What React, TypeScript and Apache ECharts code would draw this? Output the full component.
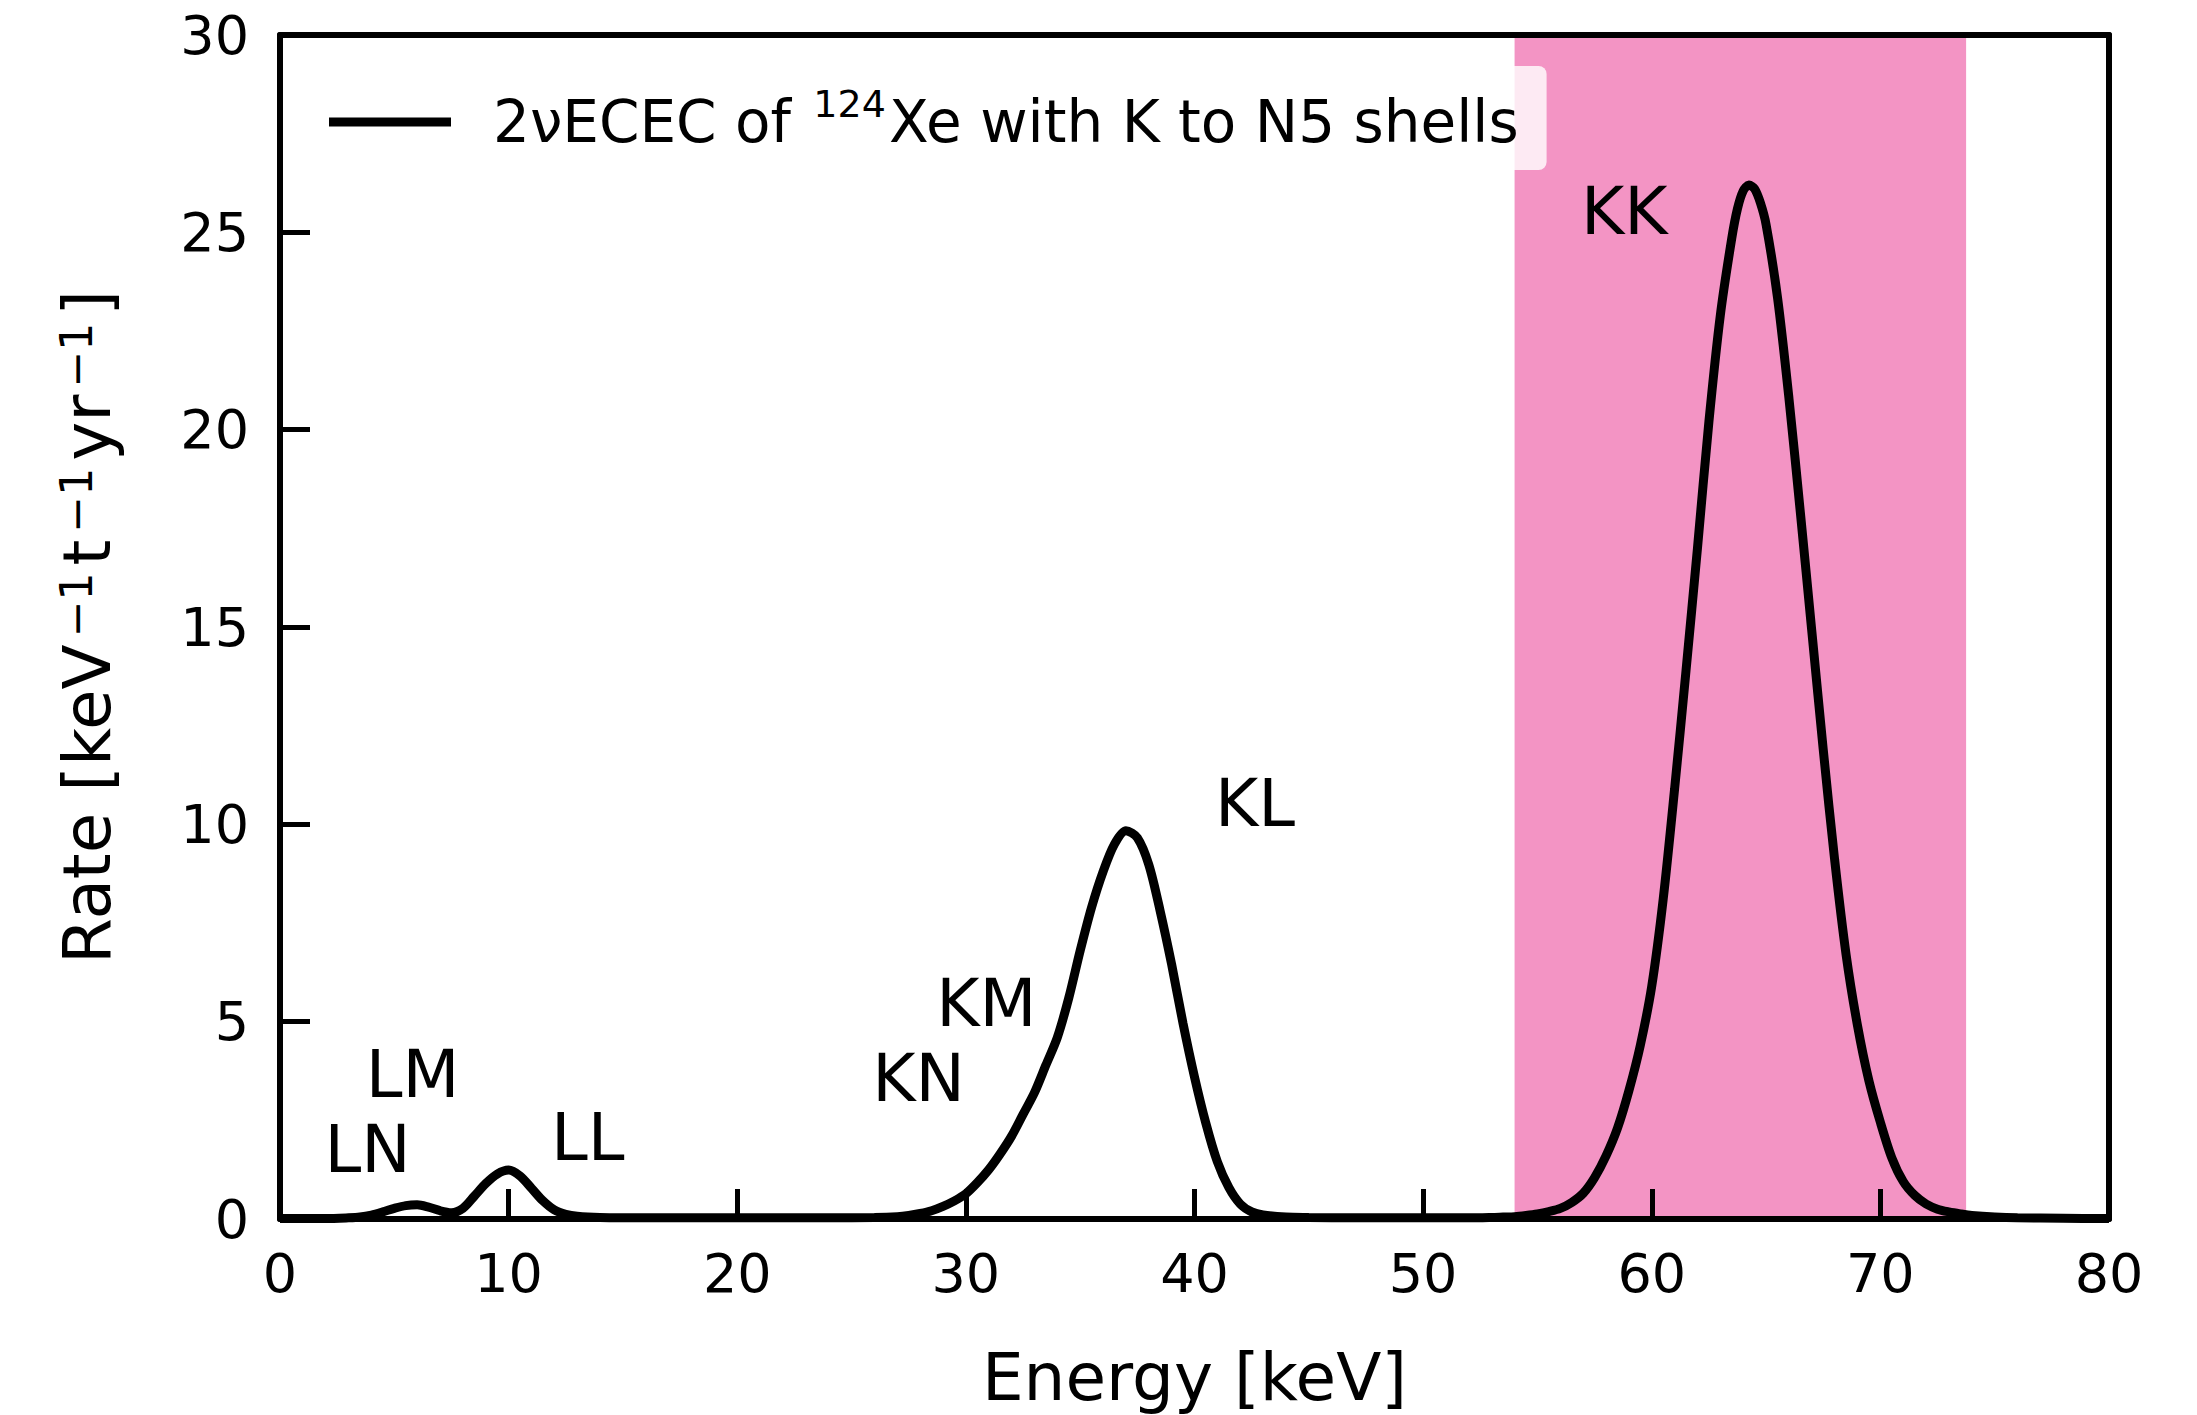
import React, { useEffect, useRef } from 'react';
import * as echarts from 'echarts';

const energy = [
  0, 1, 2, 3, 3.5, 4, 4.5, 5, 5.5, 6, 6.5, 7, 7.5, 8, 8.5, 9, 9.5, 10, 10.5, 11, 11.5, 12, 12.5, 13, 14,
  16, 18, 20, 22, 24, 26, 27, 27.5, 28, 28.5, 29, 29.5, 30, 30.5, 31, 31.5, 32, 32.5, 33, 33.5, 34, 34.5,
  35, 35.5, 36, 36.5, 37, 37.5, 38, 38.5, 39, 39.5, 40, 40.5, 41, 41.5, 42, 42.5, 43, 44, 45, 47,
  50, 52, 53, 53.5, 54, 54.5, 55, 55.5, 56, 56.5, 57, 57.5, 58, 58.5, 59, 59.5, 60, 60.5, 61, 61.5, 62,
  62.5, 63, 63.5, 63.75, 64, 64.25, 64.5, 64.75, 65, 65.5, 66, 66.5, 67, 67.5, 68, 68.5, 69, 69.5, 70, 70.5, 71, 71.5,
  72, 72.5, 73, 73.5, 74, 75, 76, 78, 80,
];
const rate = [
  0.01, 0.01, 0.01, 0.03, 0.05, 0.1, 0.18, 0.27, 0.34, 0.36, 0.3, 0.21, 0.16, 0.27, 0.58, 0.9, 1.14, 1.24, 1.09, 0.78, 0.46, 0.23, 0.12, 0.07, 0.04,
  0.03, 0.03, 0.03, 0.03, 0.03, 0.04, 0.06, 0.09, 0.14, 0.21, 0.32, 0.46, 0.64, 0.92, 1.25, 1.65, 2.1, 2.65, 3.2, 3.9, 4.6, 5.6,
  6.8, 7.9, 8.8, 9.5, 9.84, 9.66, 8.98, 7.8, 6.45, 4.95, 3.6, 2.42, 1.45, 0.8, 0.38, 0.18, 0.1, 0.05, 0.04, 0.03,
  0.03, 0.03, 0.04, 0.05, 0.06, 0.09, 0.13, 0.19, 0.27, 0.42, 0.65, 1.05, 1.6, 2.3, 3.25, 4.4, 5.9, 8.1, 10.9, 13.9, 17.0,
  20.2, 22.9, 24.85, 25.6, 26.05, 26.2, 26.1, 25.75, 25.2, 23.35, 20.8, 17.9, 14.9, 11.9, 9.1, 6.7, 4.9, 3.5, 2.45, 1.55, 0.95, 0.6,
  0.38, 0.25, 0.18, 0.13, 0.09, 0.05, 0.03, 0.02, 0.01,
];

const annotationNames = ['LN', 'LM', 'LL', 'KN', 'KM', 'KL', 'KK'];
const annotationX = [1.95, 3.75, 11.85, 25.9, 28.7, 40.9, 56.9];
const annotationY = [1.19, 3.07, 1.47, 2.97, 4.88, 9.95, 24.95];

const bandStart = 54.0;
const bandEnd = 73.75;

const seriesName = '2νECEC of 124Xe with K to N5 shells';
const xLabel = 'Energy [keV]';

export default function App() {
  const ref = useRef<HTMLDivElement>(null);
  useEffect(() => {
    const chart = echarts.init(ref.current!, null, { renderer: 'svg' });
    const font = 'DejaVu Sans';
    const spine = { show: true, onZero: false, lineStyle: { color: '#000', width: 6 } };
    chart.setOption({
      animation: false,
      backgroundColor: '#ffffff',
      grid: { left: 280, right: 88, top: 35, bottom: 192 },
      xAxis: [
        {
          type: 'value', min: 0, max: 80, interval: 10, position: 'bottom', z: 10,
          axisLine: spine,
          axisTick: { show: true, inside: true, length: 30, lineStyle: { color: '#000', width: 5 } },
          axisLabel: { fontSize: 54, fontFamily: font, color: '#000', margin: 27 },
          splitLine: { show: false },
          name: xLabel, nameLocation: 'middle', nameGap: 125,
          nameTextStyle: { fontSize: 66, fontFamily: font, color: '#000' },
        },
        {
          type: 'value', min: 0, max: 80, position: 'top', z: 10,
          axisLine: spine, axisTick: { show: false }, axisLabel: { show: false }, splitLine: { show: false },
        },
      ],
      yAxis: [
        {
          type: 'value', min: 0, max: 30, interval: 5, position: 'left', z: 10,
          axisLine: spine,
          axisTick: { show: true, inside: true, length: 30, lineStyle: { color: '#000', width: 5 } },
          axisLabel: { fontSize: 54, fontFamily: font, color: '#000', margin: 31 },
          splitLine: { show: false },
          name: '{n|Rate [keV}{s|−1}{n|t}{s|−1}{n|yr}{s|−1}{n|]}', nameLocation: 'middle', nameGap: 160, nameRotate: 90,
          nameTextStyle: {
            fontSize: 66, fontFamily: font, color: '#000',
            rich: {
              n: { fontSize: 66, fontFamily: font, color: '#000', verticalAlign: 'bottom', lineHeight: 66 },
              s: { fontSize: 44, fontFamily: font, color: '#000', verticalAlign: 'top', lineHeight: 22, padding: [0, 7, 0, 7] },
            },
          },
        },
        {
          type: 'value', min: 0, max: 30, position: 'right', z: 10,
          axisLine: spine, axisTick: { show: false }, axisLabel: { show: false }, splitLine: { show: false },
        },
      ],
      legend: {
        data: [seriesName],
        left: 301, top: 66,
        padding: [19, 28, 19, 28],
        icon: 'rect',
        itemWidth: 122, itemHeight: 9,
        itemStyle: { color: '#000' },
        backgroundColor: 'rgba(255,255,255,0.8)',
        borderRadius: 8,
        formatter: () => '{n|2νECEC of }{sup|124}{n|Xe with K to N5 shells}',
        textStyle: {
          fontSize: 58, fontFamily: font, color: '#000', padding: [0, 0, 8, 37],
          rich: {
            n: { fontSize: 58, fontFamily: font, color: '#000', verticalAlign: 'bottom', lineHeight: 66 },
            sup: { fontSize: 38, fontFamily: font, color: '#000', verticalAlign: 'top', lineHeight: 32, padding: [0, 3, 0, 4] },
          },
        },
      },
      series: [
        {
          type: 'line', name: seriesName,
          data: energy.map((e, i) => [e, rate[i]]),
          showSymbol: false, symbol: 'none',
          smooth: 0.3,
          lineStyle: { color: '#000', width: 9 },
          itemStyle: { color: '#000' },
          z: 3,
          markArea: {
            silent: true,
            itemStyle: { color: '#F394C4', opacity: 1 },
            data: [[{ xAxis: bandStart }, { xAxis: bandEnd }]],
          },
        },
        {
          type: 'custom', name: 'labels',
          data: annotationNames.map((n, i) => [annotationX[i], annotationY[i]]),
          silent: true, z: 4,
          renderItem: (params: any, api: any) => {
            const p = api.coord([api.value(0), api.value(1)]);
            return {
              type: 'text',
              x: p[0], y: p[1] - 23,
              style: {
                text: annotationNames[params.dataIndex],
                fontSize: 66, fontFamily: font, fill: '#000',
                align: 'left', verticalAlign: 'middle',
              },
            };
          },
        },
      ],
    });
    return () => chart.dispose();
  }, []);
  return <div ref={ref} style={{ position: 'fixed', left: 0, top: 0, width: 2197, height: 1415 }} />;
}
